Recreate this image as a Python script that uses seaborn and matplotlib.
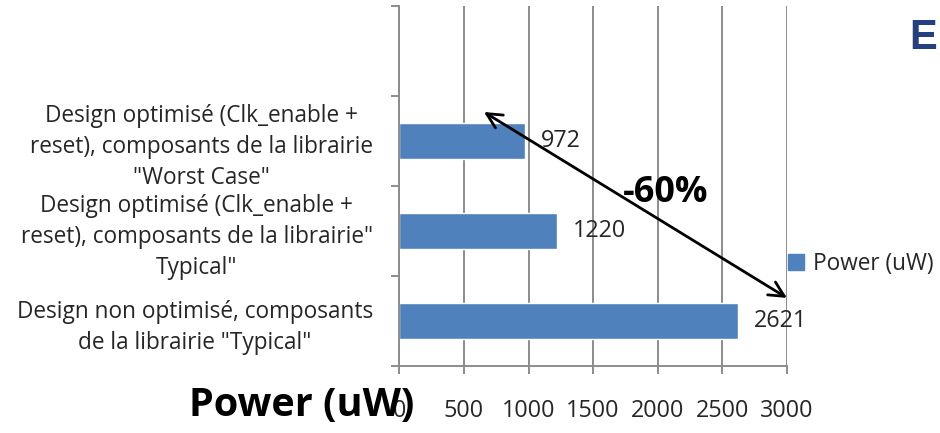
import matplotlib
matplotlib.use("Agg")
import matplotlib.pyplot as plt
from matplotlib.ticker import FixedLocator
import seaborn as sns
import pandas as pd

# Chart data (top to bottom)
categories = [
    'Design optimisé (Clk_enable +\nreset), composants de la librairie\n"Worst Case"',
    'Design optimisé (Clk_enable +\nreset), composants de la librairie"\nTypical"',
    'Design non optimisé, composants\nde la librairie "Typical"',
]
power_uw = [972, 1220, 2621]
series_name = "Power (uW)"
x_ticks = [0, 500, 1000, 1500, 2000, 2500, 3000]
reduction_label = "-60%"
heading = "E"

BAR = "#4F81BD"
GRID = "#8C8C8C"

sns.set_theme(style="white")
plt.rcParams["font.family"] = ["Open Sans", "DejaVu Sans"]

fig = plt.figure(figsize=(9.4, 4.33), dpi=100)
ax = fig.add_axes([0.4248, 0.1547, 0.8372 - 0.4248, 0.9868 - 0.1547])

df = pd.DataFrame({"cat": categories, "val": power_uw})
sns.barplot(data=df, x="val", y="cat", orient="h", color=BAR, width=0.4,
            saturation=1, ax=ax, label=series_name)
if ax.get_legend() is not None:
    ax.get_legend().remove()

ax.set_xlim(0, 3000)
ax.set_ylim(len(categories) - 0.5, -1.5)
ax.xaxis.set_major_locator(FixedLocator(x_ticks))
ax.set_xticklabels([str(v) for v in x_ticks])
ax.grid(axis="x", color=GRID, linewidth=1.4)
ax.set_axisbelow(True)

for s in ["top", "right"]:
    ax.spines[s].set_visible(False)
for s in ["left", "bottom"]:
    ax.spines[s].set_color(GRID)
    ax.spines[s].set_linewidth(1.4)

# category labels centred on bars, tick marks between categories
ax.set_yticks(range(len(categories)))
ax.set_yticklabels(categories)
ax.yaxis.set_minor_locator(FixedLocator([i - 0.5 for i in range(-1, len(categories) + 1)]))
ax.tick_params(axis="y", which="major", length=0, pad=19, labelsize=16.3)
ax.tick_params(axis="y", which="minor", left=True, length=6, width=1.4, color=GRID)
for lab in ax.get_yticklabels():
    lab.set_multialignment("center")
    lab.set_linespacing(1.38)
ax.tick_params(axis="x", bottom=True, length=6, width=1.4, color=GRID, pad=18,
               labelsize=16.8)
ax.set_xlabel("")
ax.set_ylabel("")

# value labels
for cont in ax.containers:
    ax.bar_label(cont, labels=[str(v) for v in power_uw], padding=11.5, fontsize=16.8)

# reduction arrow between best and worst case
ax.annotate("", xy=(655, -0.32), xytext=(3000, 1.744), xycoords="data",
            arrowprops=dict(arrowstyle="<->,head_length=0.9,head_width=0.45",
                            color="black", lw=2.0, shrinkA=0, shrinkB=0),
            annotation_clip=False)
ax.text(2064, 0.58, reduction_label, fontsize=26, fontweight="bold",
        ha="center", va="center", color="black")

# axis title drawn at the bottom left
fig.text(302 / 940, 1 - 406 / 433, series_name, fontsize=28.5, fontweight="bold",
         ha="center", va="center", color="black")

# legend
handles = [plt.Rectangle((0, 0), 1, 1, color=BAR)]
fig.legend(handles, [series_name], loc="center left",
           bbox_to_anchor=(788 / 940, 1 - 264 / 433),
           frameon=False, fontsize=16.3, handlelength=0.7, handleheight=0.7,
           handletextpad=0.4, borderpad=0, borderaxespad=0)

# heading at the top right
fig.text(909 / 940, 1 - 38 / 433, heading, fontsize=30, fontweight="bold",
         family=["Liberation Sans", "DejaVu Sans"], color="#253F7F",
         ha="left", va="center")

fig.savefig("out.png", dpi=100)
